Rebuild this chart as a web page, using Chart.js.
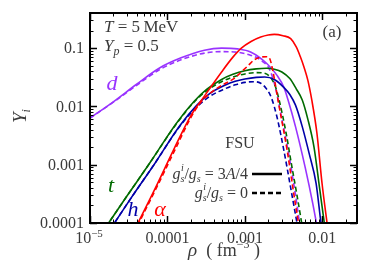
<!DOCTYPE html>
<html>
<head>
<meta charset="utf-8">
<script src="https://cdn.jsdelivr.net/npm/chart.js@4/dist/chart.umd.min.js"></script>
<style>
  html, body { margin: 0; padding: 0; background: #fff; }
  #wrap { width: 374px; height: 262px; position: relative; }
</style>
</head>
<body>
<div id="wrap"><canvas id="chart" width="374" height="262"></canvas></div>
<script>
(() => {
  'use strict';

  // axis ranges and tick labels
  const X_RANGE = [1e-5, 0.028];
  const Y_RANGE = [1e-4, 0.4];
  const X_TICKS = [1e-5, 1e-4, 1e-3, 1e-2];
  const X_TICK_LABELS = ['10^-5', '0.0001', '0.001', '0.01'];
  const Y_TICKS = [1e-4, 1e-3, 1e-2, 1e-1];
  const Y_TICK_LABELS = ['0.0001', '0.001', '0.01', '0.1'];

  // d (deuteron)
  const dX_full = [1e-5, 2e-5, 4e-5, 8e-5, 1.5e-4, 3e-4, 5e-4, 8e-4, 0.0012, 0.0019, 0.0026, 0.0032, 0.0036, 0.0045, 0.006, 0.0075, 0.0085, 0.0095];
  const dY_full = [0.0063, 0.012, 0.024, 0.046, 0.068, 0.092, 0.1, 0.097, 0.085, 0.055, 0.034, 0.021, 0.013, 0.0045, 0.0009, 0.00022, 0.00009, 0.00004];
  const dX_zero = [1e-5, 2e-5, 4e-5, 8e-5, 1.5e-4, 3e-4, 5e-4, 8e-4, 0.0012, 0.0016, 0.0021, 0.0025, 0.003, 0.0038, 0.0045, 0.0052, 0.006];
  const dY_zero = [0.0063, 0.0118, 0.023, 0.043, 0.063, 0.082, 0.087, 0.085, 0.075, 0.062, 0.042, 0.02, 0.006, 0.0012, 0.0003, 0.00008, 0.00003];

  // t (triton)
  const tX_full = [1.6e-5, 3e-5, 6e-5, 1.3e-4, 2.2e-4, 3.2e-4, 5e-4, 7e-4, 0.001, 0.0014, 0.0019, 0.0024, 0.003, 0.0038, 0.0046, 0.0055, 0.0065, 0.0078, 0.0092, 0.0106, 0.012];
  const tY_full = [0.000085, 0.00029, 0.0011, 0.0051, 0.0121, 0.0195, 0.029, 0.0355, 0.041, 0.044, 0.045, 0.0435, 0.039, 0.03, 0.02, 0.0129, 0.006, 0.002, 0.0004, 0.0001, 0.00003];
  const tX_zero = [1.6e-5, 3e-5, 6e-5, 1.3e-4, 2.2e-4, 3.2e-4, 5e-4, 7e-4, 0.001, 0.0014, 0.0018, 0.0022, 0.0025, 0.0028, 0.0034, 0.004, 0.0047, 0.0054, 0.006];
  const tY_zero = [0.000085, 0.00029, 0.0011, 0.005, 0.0118, 0.0185, 0.0265, 0.032, 0.036, 0.038, 0.037, 0.03, 0.021, 0.012, 0.0035, 0.001, 0.0003, 0.0001, 0.00004];

  // h (helion)
  const hX_full = [1.85e-5, 3.4e-5, 6.7e-5, 1.45e-4, 2.4e-4, 3.5e-4, 5.5e-4, 7.5e-4, 0.001, 0.0014, 0.0018, 0.0024, 0.0032, 0.0038, 0.0045, 0.0055, 0.0068, 0.0083, 0.0096, 0.011];
  const hY_full = [0.00008, 0.00027, 0.001, 0.0047, 0.0105, 0.0165, 0.023, 0.027, 0.0295, 0.0315, 0.032, 0.029, 0.021, 0.016, 0.0105, 0.0045, 0.0015, 0.00048, 0.0001, 0.00003];
  const hX_zero = [1.85e-5, 3.4e-5, 6.7e-5, 1.45e-4, 2.4e-4, 3.5e-4, 5.5e-4, 7.5e-4, 0.001, 0.0013, 0.0016, 0.0019, 0.0022, 0.0026, 0.0032, 0.0039, 0.0047, 0.0055];
  const hY_zero = [0.00008, 0.00027, 0.001, 0.0046, 0.0098, 0.0148, 0.02, 0.0235, 0.0258, 0.0265, 0.025, 0.02, 0.014, 0.0065, 0.0017, 0.0004, 0.0001, 0.00003];

  // alpha
  const aX_full = [4e-5, 7e-5, 1.2e-4, 2e-4, 3e-4, 5e-4, 7e-4, 9e-4, 0.0012, 0.0016, 0.002, 0.0024, 0.0031, 0.0039, 0.0046, 0.0052, 0.0058, 0.0065, 0.0073, 0.0085, 0.0099, 0.0115, 0.013];
  const aY_full = [0.00009, 0.0004, 0.0018, 0.0069, 0.015, 0.039, 0.07, 0.1, 0.13, 0.155, 0.168, 0.172, 0.163, 0.145, 0.105, 0.071, 0.047, 0.028, 0.0129, 0.0035, 0.00048, 0.0001, 0.00003];
  const aX_zero = [4.1e-5, 7.2e-5, 1.25e-4, 2.05e-4, 2.7e-4, 3.5e-4, 4.5e-4, 5.8e-4, 7.2e-4, 9e-4, 0.0011, 0.0013, 0.0016, 0.0019, 0.0021, 0.0023, 0.0027, 0.0035, 0.0043, 0.0049, 0.0055];
  const aY_zero = [0.00009, 0.0004, 0.0018, 0.0068, 0.0118, 0.0165, 0.021, 0.0255, 0.03, 0.039, 0.05, 0.062, 0.07, 0.071, 0.065, 0.04, 0.012, 0.0018, 0.0003, 0.0001, 0.00003];

  const PURPLE = '#9933ff', GREEN = '#006a00', BLUE = '#0000a8', RED = '#ff0000';
  const TEXT = '#3a3a3a';
  const SERIF = '"Liberation Serif", "DejaVu Serif", serif';
  const DASH = [5, 3];

  const pts = (xs, ys) => xs.map((x, i) => ({ x, y: ys[i] }));

  function series(xs, ys, color, dashed) {
    return {
      data: pts(xs, ys),
      borderColor: color,
      borderWidth: 1.6,
      borderDash: dashed ? DASH : [],
      pointRadius: 0,
      cubicInterpolationMode: 'monotone',
      fill: false,
    };
  }

  function textWidth(ctx, parts) {
    return parts.reduce((s, p) => { ctx.font = p[1]; return s + ctx.measureText(p[0]).width; }, 0);
  }

  // draws text made of runs [text, font, dy]
  function runs(ctx, parts, x, y, align) {
    ctx.textBaseline = 'alphabetic';
    ctx.textAlign = 'left';
    const total = textWidth(ctx, parts);
    let cx = align === 'right' ? x - total : align === 'center' ? x - total / 2 : x;
    parts.forEach(p => {
      ctx.font = p[1];
      ctx.fillText(p[0], cx, y + (p[2] || 0));
      cx += ctx.measureText(p[0]).width;
    });
    return cx - total;
  }

  const decor = {
    id: 'decor',
    afterDatasetsDraw(chart) {
      const { ctx, chartArea: a, scales: { x, y } } = chart;
      ctx.save();

      // minor and major ticks, inward on all four sides
      ctx.strokeStyle = '#000';
      for (let e = -5; e <= -2; e++) {
        for (let m = 1; m <= 9; m++) {
          const v = m * Math.pow(10, e);
          if (v < X_RANGE[0] || v > X_RANGE[1]) continue;
          const px = Math.round(x.getPixelForValue(v)) + 0.5;
          const len = m === 1 ? 7 : 3.5;
          ctx.lineWidth = m === 1 ? 1.5 : 1;
          ctx.beginPath();
          ctx.moveTo(px, a.bottom); ctx.lineTo(px, a.bottom - len);
          ctx.moveTo(px, a.top); ctx.lineTo(px, a.top + len);
          ctx.stroke();
        }
      }
      for (let e = -4; e <= -1; e++) {
        for (let m = 1; m <= 9; m++) {
          const v = m * Math.pow(10, e);
          if (v < Y_RANGE[0] || v > Y_RANGE[1]) continue;
          const py = Math.round(y.getPixelForValue(v)) + 0.5;
          const len = m === 1 ? 7 : 3.5;
          ctx.lineWidth = m === 1 ? 1.5 : 1;
          ctx.beginPath();
          ctx.moveTo(a.left, py); ctx.lineTo(a.left + len, py);
          ctx.moveTo(a.right, py); ctx.lineTo(a.right - len, py);
          ctx.stroke();
        }
      }
      ctx.lineWidth = 2;
      ctx.strokeRect(a.left, a.top, a.right - a.left, a.bottom - a.top);

      // tick labels
      ctx.fillStyle = TEXT;
      const f16 = '16px ' + SERIF, f11 = '11px ' + SERIF;
      Y_TICKS.forEach((v, i) => {
        ctx.font = f16; ctx.textAlign = 'right'; ctx.textBaseline = 'middle';
        ctx.fillText(Y_TICK_LABELS[i], a.left - 6, y.getPixelForValue(v) + 1);
      });
      X_TICKS.forEach((v, i) => {
        const px = x.getPixelForValue(v);
        const lab = X_TICK_LABELS[i];
        if (lab.includes('^')) {
          const [b, p] = lab.split('^');
          runs(ctx, [[b, f16, 0], [p.replace('-', '\u2212'), f11, -6]], px - 1, a.bottom + 20, 'center');
        } else {
          runs(ctx, [[lab, f16, 0]], px, a.bottom + 20, 'center');
        }
      });

      // axis titles
      const it18 = 'italic 19px ' + SERIF, r18 = '18px ' + SERIF, r12 = '12px ' + SERIF;
      runs(ctx, [['\u03c1', it18, 0], ['  ( fm', r18, 0], ['\u22123', r12, -8], [' )', r18, 0]], 224, a.bottom + 33, 'center');
      ctx.save();
      ctx.translate(26, 116);
      ctx.rotate(-Math.PI / 2);
      runs(ctx, [['Y', 'italic 19px ' + SERIF, 0], ['i', 'italic 12px ' + SERIF, 4]], 0, 0, 'center');
      ctx.restore();

      // annotations
      const it17 = 'italic 17px ' + SERIF, r17 = '17px ' + SERIF, it12 = 'italic 12px ' + SERIF;
      runs(ctx, [['T', it17, 0], [' = 5\u2009MeV', r17, 0]], 104, 32, 'left');
      runs(ctx, [['Y', it17, 0], ['p', it12, 4], [' = 0.5', r17, 0]], 104, 51, 'left');
      runs(ctx, [['(a)', r17, 0]], 332, 37, 'center');
      runs(ctx, [['FSU', '16px ' + SERIF, 0]], 240, 148, 'center');

      // legend
      const it16 = 'italic 16px ' + SERIF, r16 = '16px ' + SERIF, it10 = 'italic 10px ' + SERIF;
      const l1 = [['g', it16, 0], ['s', it10, 3], ['/', r16, 0], ['g', it16, 0], ['s', it10, 3], [' = 3', r16, 0], ['A', it16, 0], ['/4', r16, 0]];
      const l2 = [['g', it16, 0], ['s', it10, 3], ['/', r16, 0], ['g', it16, 0], ['s', it10, 3], [' = 0', r16, 0]];
      const s1 = runs(ctx, l1, 248, 179, 'right');
      const s2 = runs(ctx, l2, 248, 198, 'right');
      ctx.font = it10;
      ctx.fillText('i', s1 + 8.5, 179 - 8);
      ctx.fillText('i', s2 + 8.5, 198 - 8);
      ctx.strokeStyle = '#000';
      ctx.lineWidth = 2.5;
      ctx.beginPath(); ctx.moveTo(252, 174); ctx.lineTo(282, 174); ctx.stroke();
      ctx.setLineDash(DASH);
      ctx.beginPath(); ctx.moveTo(252, 193); ctx.lineTo(282, 193); ctx.stroke();
      ctx.setLineDash([]);

      // curve labels
      ctx.textAlign = 'center'; ctx.textBaseline = 'middle';
      ctx.font = 'italic 22px ' + SERIF;
      ctx.fillStyle = PURPLE; ctx.fillText('d', 112, 84);
      ctx.fillStyle = GREEN; ctx.fillText('t', 111, 186);
      ctx.fillStyle = BLUE; ctx.fillText('h', 133, 210);
      ctx.fillStyle = RED; ctx.fillText('\u03b1', 160, 210);

      ctx.restore();
    },
  };

  new Chart(document.getElementById('chart'), {
    type: 'line',
    data: {
      datasets: [
        series(aX_full, aY_full, RED, false),
        series(aX_zero, aY_zero, RED, true),
        series(hX_full, hY_full, BLUE, false),
        series(hX_zero, hY_zero, BLUE, true),
        series(tX_full, tY_full, GREEN, false),
        series(tX_zero, tY_zero, GREEN, true),
        series(dX_full, dY_full, PURPLE, false),
        series(dX_zero, dY_zero, PURPLE, true),
      ],
    },
    options: {
      responsive: false,
      animation: false,
      devicePixelRatio: 1,
      layout: { padding: { top: 13, right: 17, left: 0, bottom: 0 } },
      plugins: { legend: { display: false }, tooltip: { enabled: false } },
      scales: {
        x: {
          type: 'logarithmic', min: X_RANGE[0], max: X_RANGE[1],
          grid: { display: false }, border: { display: false }, ticks: { display: false },
          afterFit: s => { s.height = 39; },
        },
        y: {
          type: 'logarithmic', min: Y_RANGE[0], max: Y_RANGE[1],
          grid: { display: false }, border: { display: false }, ticks: { display: false },
          afterFit: s => { s.width = 90; },
        },
      },
    },
    plugins: [decor],
  });
})();
</script>
</body>
</html>
